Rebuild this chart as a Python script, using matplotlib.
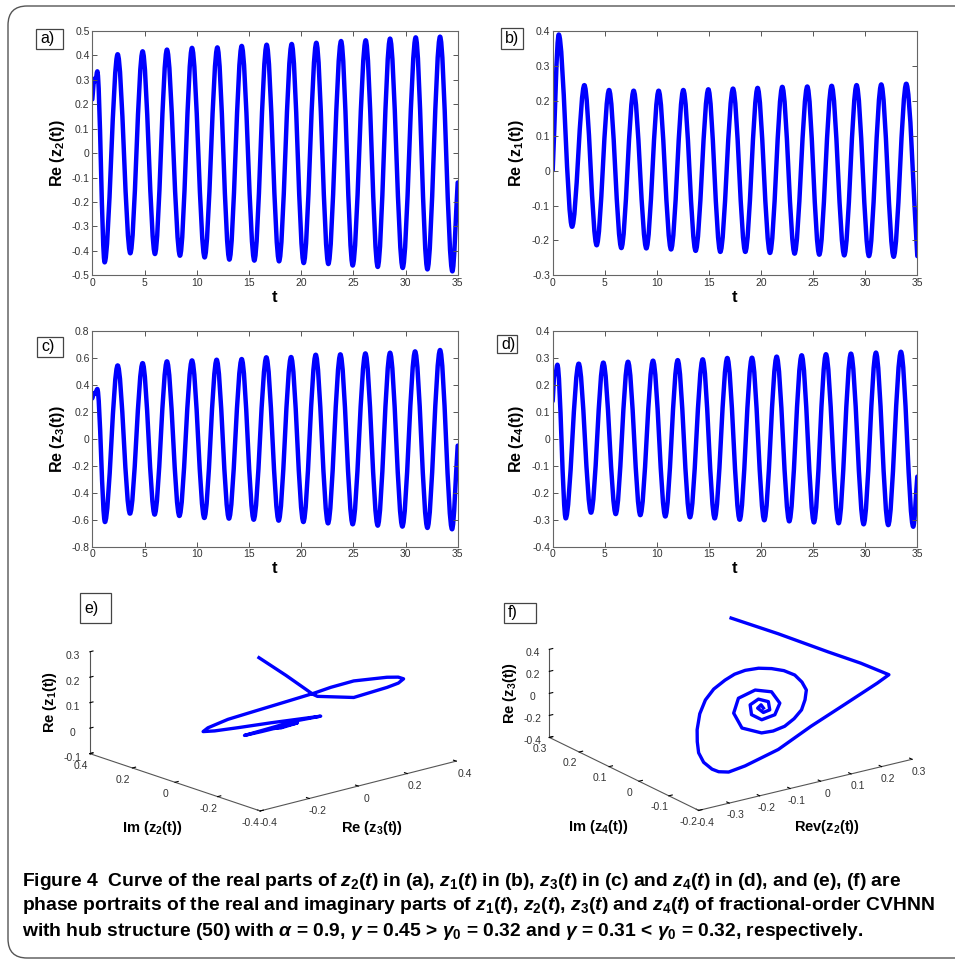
import numpy as np
import matplotlib
matplotlib.use("Agg")
import matplotlib.pyplot as plt
from matplotlib.path import Path
from matplotlib.patches import PathPatch, FancyBboxPatch, Rectangle
from matplotlib.ticker import FuncFormatter
from matplotlib import font_manager as fm


def have_font(name):
    try:
        fm.findfont(name, fallback_to_default=False)
        return True
    except ValueError:
        return False


CAP_FONT = 'Liberation Sans Narrow' if have_font('Liberation Sans Narrow') else 'Liberation Sans'

plt.rcParams['font.family'] = ['Liberation Sans', 'DejaVu Sans']
plt.rcParams['mathtext.fontset'] = 'custom'
plt.rcParams['mathtext.rm'] = CAP_FONT + ':bold'
plt.rcParams['mathtext.it'] = CAP_FONT + ':italic:bold'
plt.rcParams['mathtext.bf'] = CAP_FONT + ':bold'

# ---- (a) Re z2(t): start, shoulder, then alternating extrema, end
a_t = [0, 0.2, 0.3, 0.48, 1.18, 2.43, 3.64, 4.82, 6.0, 7.15, 8.4, 9.55, 10.76, 11.98, 13.13,
       14.31, 15.52, 16.7, 17.89, 19.1, 20.25, 21.46, 22.61, 23.83, 24.94, 26.19, 27.34,
       28.52, 29.73, 30.98, 32.1, 33.31, 34.49, 35.0]
a_v = [0.22, 0.305, 0.295, 0.335, -0.447, 0.405, -0.41, 0.417, -0.413, 0.424, -0.42, 0.431,
       -0.427, 0.433, -0.436, 0.439, -0.44, 0.444, -0.443, 0.447, -0.45, 0.452, -0.454, 0.459,
       -0.46, 0.462, -0.466, 0.469, -0.47, 0.474, -0.476, 0.477, -0.484, -0.12]

# ---- (b) Re z1(t)
b_t = [0, 0.58, 1.86, 3.04, 4.22, 5.41, 6.59, 7.77, 8.99, 10.17, 11.36, 12.54, 13.72, 14.94,
       16.09, 17.31, 18.49, 19.67, 20.86, 22.04, 23.22, 24.44, 25.59, 26.78, 27.99, 29.17,
       30.36, 31.54, 32.73, 33.94, 35.0]
b_v = [0.0, 0.39, -0.161, 0.245, -0.214, 0.231, -0.222, 0.229, -0.223, 0.229, -0.226, 0.231,
       -0.23, 0.233, -0.233, 0.235, -0.233, 0.237, -0.236, 0.24, -0.238, 0.241, -0.241, 0.243,
       -0.243, 0.245, -0.245, 0.247, -0.247, 0.249, -0.245]

# ---- (c) Re z3(t)
c_t = [0, 0.18, 0.28, 0.48, 1.21, 2.43, 3.61, 4.82, 5.97, 7.15, 8.34, 9.55, 10.73, 11.91,
       13.09, 14.31, 15.46, 16.67, 17.85, 19.04, 20.22, 21.4, 22.58, 23.76, 24.94, 26.16,
       27.34, 28.52, 29.7, 30.92, 32.1, 33.31, 34.46, 35.0]
c_v = [0.3, 0.34, 0.335, 0.37, -0.617, 0.545, -0.555, 0.562, -0.562, 0.575, -0.572, 0.582,
       -0.587, 0.587, -0.592, 0.592, -0.6, 0.605, -0.607, 0.607, -0.617, 0.624, -0.627, 0.627,
       -0.634, 0.634, -0.644, 0.639, -0.651, 0.649, -0.661, 0.659, -0.671, -0.05]

# ---- (d) Re z4(t)
d_t = [0, 0.18, 0.26, 0.45, 1.25, 2.5, 3.68, 4.86, 6.05, 7.23, 8.41, 9.63, 10.81, 12.0,
       13.18, 14.4, 15.55, 16.76, 17.95, 19.13, 20.31, 21.5, 22.71, 23.9, 25.08, 26.23,
       27.45, 28.63, 29.85, 31.03, 32.21, 33.43, 34.61, 35.0]
d_v = [0.14, 0.245, 0.24, 0.275, -0.295, 0.279, -0.274, 0.283, -0.279, 0.286, -0.283, 0.29,
       -0.288, 0.292, -0.291, 0.295, -0.295, 0.3, -0.3, 0.301, -0.302, 0.305, -0.306, 0.31,
       -0.31, 0.314, -0.313, 0.316, -0.317, 0.32, -0.32, 0.323, -0.326, -0.14]

# ---- (e) phase portrait: x = Re z3, y = Im z2, z = Re z1
e_x = [-0.014, 0.053, 0.119, 0.129, 0.225, 0.309, 0.342, 0.359, 0.346, 0.317, 0.225, 0.166,
       0.124, 0.059, -0.033, -0.097, -0.144, -0.155, -0.134, -0.082, 0.009, 0.101, 0.151,
       0.069, 0.009, -0.073, -0.023, 0.059, 0.091, 0.041, 0.018, 0.073, 0.05]
e_y = [0.05, 0.0, -0.05, -0.06, -0.12, -0.18, -0.195, -0.2, -0.19, -0.17, -0.12, -0.08,
       -0.05, 0.0, 0.05, 0.1, 0.14, 0.15, 0.12, 0.07, 0.02, -0.03, -0.05, -0.02, 0.02, 0.05,
       0.03, 0.0, -0.01, 0.01, 0.015, 0.0, 0.005]
e_z = [0.281, 0.209, 0.133, 0.125, 0.114, 0.15, 0.163, 0.177, 0.184, 0.185, 0.179, 0.157,
       0.136, 0.106, 0.075, 0.045, 0.012, -0.003, 0.003, 0.017, 0.028, 0.037, 0.039, 0.031,
       0.008, -0.01, -0.002, 0.012, 0.016, 0.003, 0.005, 0.014, 0.009]

# ---- (f) phase portrait: x = Re z2, y = Im z4, z = Re z3
f_x = [0.166, 0.204, 0.237, 0.268, 0.283, 0.26, 0.15, 0.094, -0.03, -0.14, -0.19,
       -0.211, -0.22, -0.223, -0.213, -0.191, -0.165, -0.123, -0.08, -0.037, 0.008, 0.042,
       0.074, 0.108, 0.136, 0.159, 0.173, 0.173, 0.165, 0.14, 0.11, 0.074, 0.036, 0.0, -0.03,
       -0.062, -0.047, -0.003, 0.052, 0.084, 0.077, 0.04, 0.0, -0.011, 0.008, 0.039, 0.055,
       0.04, 0.02, 0.017, 0.032, 0.03]
f_y = [0.269, 0.15, 0.017, -0.061, -0.14, -0.125, -0.127, -0.072, -0.089, -0.09, -0.086,
       -0.074, -0.061, -0.036, -0.009, 0.018, 0.045, 0.079, 0.104, 0.12, 0.128, 0.131,
       0.128, 0.118, 0.103, 0.085, 0.063, 0.039, 0.016, -0.005, -0.024, -0.036, -0.043,
       -0.041, -0.033, 0.0, 0.043, 0.072, 0.072, 0.05, 0.015, -0.006, -0.003, 0.02, 0.044,
       0.048, 0.031, 0.011, 0.012, 0.028, 0.032, 0.022]
f_z = [0.35, 0.34, 0.33, 0.31, 0.3, 0.22, 0.1, -0.133, -0.239, -0.314, -0.342,
       -0.341, -0.329, -0.298, -0.254, -0.203, -0.148, -0.076, -0.012, 0.037, 0.078, 0.105,
       0.123, 0.133, 0.131, 0.121, 0.101, 0.069, 0.033, -0.012, -0.058, -0.098, -0.133,
       -0.155, -0.163, -0.141, -0.073, -0.005, 0.033, 0.025, -0.027, -0.08, -0.103, -0.08,
       -0.035, -0.009, -0.02, -0.058, -0.07, -0.05, -0.035, -0.05]

caption = [
    r"Figure 4  Curve of the real parts of $z_2(t)$ in (a), $z_1(t)$ in (b), $z_3(t)$ in (c) and $z_4(t)$ in (d), and (e), (f) are",
    r"phase portraits of the real and imaginary parts of $z_1(t)$, $z_2(t)$, $z_3(t)$ and $z_4(t)$ of fractional-order CVHNN",
    r"with hub structure (50) with $\alpha$ = 0.9, $\gamma$ = 0.45 > $\gamma_0$ = 0.32 and $\gamma$ = 0.31 < $\gamma_0$ = 0.32, respectively.",
]

W, H = 955, 960
BLUE = '#0000ff'
fig = plt.figure(figsize=(W / 100, H / 100), dpi=100)


def fx(x):
    return x / W


def fy(y):
    return 1 - y / H


fmt = FuncFormatter(lambda v, p: '%g' % (round(v, 6) + 0.0))


def smooth_line(ax, t, v, **kw):
    # cubic hermite through the read-off points, flat at the extrema
    t = np.asarray(t, float)
    v = np.asarray(v, float)
    chord = np.diff(v) / np.diff(t)
    s = np.zeros(len(t))
    s[0], s[-1] = chord[0], chord[-1]
    for i in range(1, len(t) - 1):
        if chord[i - 1] * chord[i] > 0:
            s[i] = 0.5 * (chord[i - 1] + chord[i])
    verts = [(t[0], v[0])]
    codes = [Path.MOVETO]
    for i in range(len(t) - 1):
        h = (t[i + 1] - t[i]) / 3
        verts += [(t[i] + h, v[i] + s[i] * h), (t[i + 1] - h, v[i + 1] - s[i + 1] * h),
                  (t[i + 1], v[i + 1])]
        codes += [Path.CURVE4] * 3
    ax.add_patch(PathPatch(Path(verts, codes), fill=False, **kw))


def ts_axes(box, t, v, ylim, ystep, ylabel, lab_x, lab_y):
    l, top, r, b = box
    ax = fig.add_axes([fx(l), fy(b), (r - l) / W, (b - top) / H])
    smooth_line(ax, t, v, edgecolor=BLUE, lw=3.2, capstyle='round', joinstyle='round')
    ax.set_xlim(0, 35)
    ax.set_ylim(*ylim)
    ax.set_xticks(np.arange(0, 36, 5))
    ax.set_yticks(np.arange(ylim[0], ylim[1] + ystep / 2, ystep))
    ax.xaxis.set_major_formatter(fmt)
    ax.yaxis.set_major_formatter(fmt)
    ax.tick_params(direction='in', top=True, right=True, length=3.5, width=0.7,
                   color='#555555', labelsize=7.5, labelcolor='#333333', pad=2)
    for sp in ax.spines.values():
        sp.set_color('#666666')
        sp.set_linewidth(0.8)
    ax.set_ylabel(ylabel, fontsize=11.5, fontweight='bold')
    ax.set_xlabel('t', fontsize=12, fontweight='bold')
    ax.yaxis.set_label_coords(lab_x, 0.5)
    ax.xaxis.set_label_coords(0.5, lab_y)
    return ax


ts_axes((92.3, 31, 457.7, 275.3), a_t, a_v, (-0.5, 0.5), 0.1, 'Re (z$_2$(t))', -0.068, -0.062)
ts_axes((552.7, 31, 917.3, 275.3), b_t, b_v, (-0.3, 0.4), 0.1, 'Re (z$_1$(t))', -0.074, -0.062)
ts_axes((92.3, 331, 457.7, 546.7), c_t, c_v, (-0.8, 0.8), 0.2, 'Re (z$_3$(t))', -0.070, -0.068)
ts_axes((552.7, 331, 917.3, 546.7), d_t, d_v, (-0.4, 0.4), 0.1, 'Re (z$_4$(t))', -0.074, -0.068)


def phase_axes(rect, x, y, z, lims, ticks, view, aspect):
    l, top, r, b = rect
    ax = fig.add_axes([fx(l), fy(b), (r - l) / W, (b - top) / H], projection='3d')
    ax.set_proj_type('ortho')
    ax.view_init(elev=view[0], azim=view[1])
    ax.set_box_aspect(aspect[:3], zoom=aspect[3])
    line, = ax.plot(x, y, z, color=BLUE, lw=2.4, solid_joinstyle='round')
    line.set_clip_on(False)
    ax.set_xlim(*lims[0])
    ax.set_ylim(*lims[1])
    ax.set_zlim(*lims[2])
    ax.set_xticks(ticks[0])
    ax.set_yticks(ticks[1])
    ax.set_zticks(ticks[2])
    ax.grid(False)
    for axis in (ax.xaxis, ax.yaxis, ax.zaxis):
        axis.set_pane_color((1, 1, 1, 0))
        axis.pane.set_edgecolor((1, 1, 1, 0))
        axis.line.set_color('#555555')
        axis.line.set_linewidth(0.8)
        axis.set_major_formatter(fmt)
        axis._axinfo['tick']['inward_factor'] = 0.0
        axis._axinfo['tick']['outward_factor'] = 0.2
        axis._axinfo['tick']['color'] = '#555555'
    ax.tick_params(labelsize=7.5, labelcolor='#333333', pad=-4)
    return ax


phase_axes((40, 597, 500, 822), e_x, e_y, e_z,
           [(-0.4, 0.4), (-0.4, 0.4), (-0.1, 0.3)],
           [np.arange(-0.4, 0.41, 0.2), np.arange(-0.4, 0.41, 0.2), np.arange(-0.1, 0.31, 0.1)],
           (17, -131), (1, 1, 0.41, 1.65))
phase_axes((500, 590, 955, 825), f_x, f_y, f_z,
           [(-0.4, 0.3), (-0.2, 0.3), (-0.4, 0.4)],
           [np.arange(-0.4, 0.31, 0.1), np.arange(-0.2, 0.31, 0.1), np.arange(-0.4, 0.41, 0.2)],
           (20, -125), (1, 1, 0.36, 1.57))

lab = dict(fontsize=10.5, fontweight='bold')
fig.text(fx(151.7), fy(828), 'Im (z$_2$(t))', ha='center', va='center', **lab)
fig.text(fx(371.7), fy(828), 'Re (z$_3$(t))', ha='center', va='center', **lab)
fig.text(fx(50), fy(701.7), 'Re (z$_1$(t))', ha='center', va='center', rotation=90, **lab)
fig.text(fx(598), fy(826.7), 'Im (z$_4$(t))', ha='center', va='center', **lab)
fig.text(fx(826.7), fy(826.7), 'Rev(z$_2$(t))', ha='center', va='center', **lab)
fig.text(fx(510), fy(693), 'Re (z$_3$(t))', ha='center', va='center', rotation=90, **lab)

# panel tags in little boxes
tags = [('a)', 36, 29, 63, 49), ('b)', 501, 28, 523, 49), ('c)', 37, 337, 63, 357),
        ('d)', 497, 335, 517, 353), ('e)', 80, 593, 111, 623), ('f)', 504, 603, 536, 623)]
for txt, x0, y0, x1, y1 in tags:
    fig.add_artist(Rectangle((fx(x0), fy(y1)), (x1 - x0) / W, (y1 - y0) / H,
                             transform=fig.transFigure, fill=True, fc='white',
                             ec='#444444', lw=0.9))
    fig.text(fx(x0 + 4), fy((y0 + y1) / 2), txt, ha='left', va='center', fontsize=11.5)

# outer rounded frame and caption
fig.add_artist(FancyBboxPatch((fx(8), fy(958)), (990 - 8) / W, (958 - 6) / H,
                              boxstyle='round,pad=0,rounding_size=0.02',
                              transform=fig.transFigure, fill=False, ec='#555555', lw=1.0))
for i, line in enumerate(caption):
    fig.text(fx(22), fy(881 + 25 * i), line, ha='left', va='center', fontsize=13.9,
             fontweight='bold', family=[CAP_FONT, 'DejaVu Sans'])

fig.savefig('out.png', dpi=100)
